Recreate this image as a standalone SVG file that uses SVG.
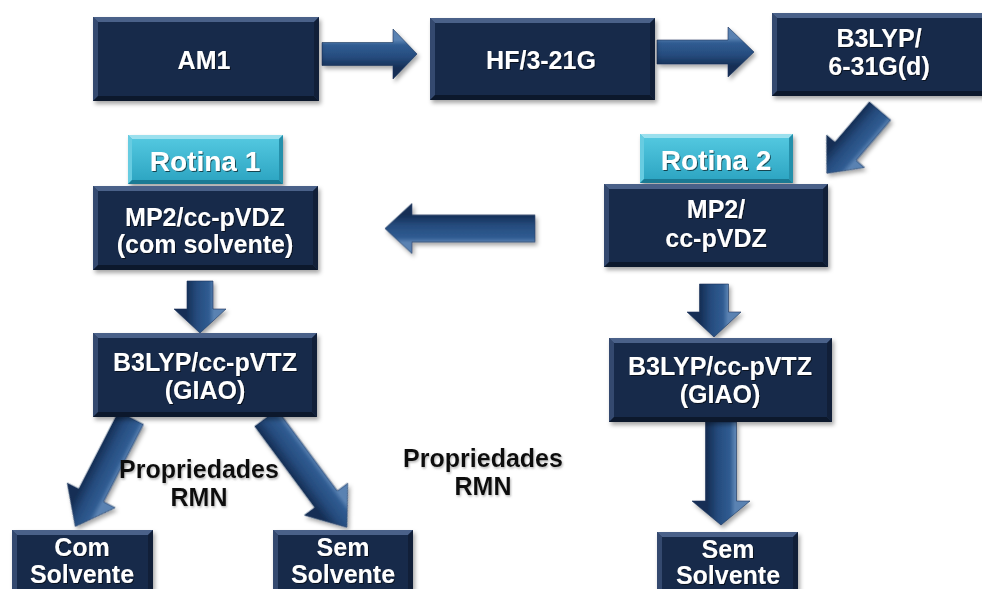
<svg xmlns="http://www.w3.org/2000/svg" width="982" height="589" viewBox="0 0 982 589">
  <defs>
    <style>
      .rim { fill: #2a3f62; }
      .bt { fill: #4a6189; }
      .bl { fill: #34496f; }
      .br { fill: #111f38; }
      .bb { fill: #0c182c; }
      .face { fill: #172a4a; }
      .trim { fill: #45b9d2; }
      .tbt { fill: #9be0ee; }
      .tbl { fill: #67cce1; }
      .tbr { fill: #2590ab; }
      .tbb { fill: #1b7a94; }
      .tface { fill: url(#tabGrad); }
      .arrow { fill: url(#arrowGrad); stroke: #17335a; stroke-width: 0.6; }
      .lbl { font-family: "Liberation Sans", Arial, sans-serif; font-weight: bold; font-size: 25px; fill: #ffffff; text-anchor: middle; }
      .tab { font-size: 28px; }
      .note { font-family: "Liberation Sans", Arial, sans-serif; font-weight: bold; font-size: 25px; fill: #111111; text-anchor: middle; }
    </style>
    <linearGradient id="tabGrad" x1="0" y1="0" x2="0" y2="1">
      <stop offset="0" stop-color="#52c7df"/>
      <stop offset="1" stop-color="#2ea6c3"/>
    </linearGradient>
    <linearGradient id="arrowGrad" gradientUnits="userSpaceOnUse" x1="0" y1="-14" x2="0" y2="14">
      <stop offset="0" stop-color="#5a82b2"/>
      <stop offset="0.18" stop-color="#305c92"/>
      <stop offset="0.6" stop-color="#264c7e"/>
      <stop offset="1" stop-color="#152e55"/>
    </linearGradient>
    <filter id="shadow" x="-10%" y="-10%" width="125%" height="130%">
      <feDropShadow dx="2" dy="3" stdDeviation="2" flood-color="#000" flood-opacity="0.35"/>
    </filter>
    <filter id="txtShadow" x="-5%" y="-20%" width="115%" height="150%">
      <feDropShadow dx="1" dy="1" stdDeviation="0.7" flood-color="#000" flood-opacity="0.6"/>
    </filter>
    <filter id="noteShadow" x="-5%" y="-20%" width="115%" height="150%">
      <feDropShadow dx="1" dy="1.5" stdDeviation="1" flood-color="#777" flood-opacity="0.55"/>
    </filter>
  </defs>

  <rect width="982" height="589" fill="#ffffff"/>

  <!-- block arrows between the steps -->
  <g id="connectors" filter="url(#shadow)">
    <g transform="translate(322,54)"><path class="arrow" d="M0,-11.5 L71,-11.5 L71,-25 L95,0 L71,25 L71,11.5 L0,11.5 Z"/></g>
    <g transform="translate(657,52)"><path class="arrow" d="M0,-12 L71,-12 L71,-25 L97,0 L71,25 L71,12 L0,12 Z"/></g>
    <g transform="translate(880,111) rotate(130.5)"><path class="arrow" d="M0,-14 L53,-14 L53,-25 L82,0 L53,25 L53,14 L0,14 Z"/></g>
    <g transform="translate(535,228.5) rotate(180)"><path class="arrow" d="M0,-13.5 L123,-13.5 L123,-25 L150,0 L123,25 L123,13.5 L0,13.5 Z"/></g>
    <g transform="translate(200,281) rotate(90)"><path class="arrow" d="M0,-13 L28,-13 L28,-26 L52,0 L28,26 L28,13 L0,13 Z"/></g>
    <g transform="translate(131,418) rotate(117.2)"><path class="arrow" d="M0,-14 L87,-14 L87,-27 L122,0 L87,27 L87,14 L0,14 Z"/></g>
    <g transform="translate(266,418) rotate(53.5)"><path class="arrow" d="M0,-14 L101,-14 L101,-27 L136,0 L101,27 L101,14 L0,14 Z"/></g>
    <g transform="translate(714,284) rotate(90)"><path class="arrow" d="M0,-14.5 L28,-14.5 L28,-27 L53,0 L28,27 L28,14.5 L0,14.5 Z"/></g>
    <g transform="translate(721,422) rotate(90)"><path class="arrow" d="M0,-15.5 L79,-15.5 L79,-29 L103,0 L79,29 L79,15.5 L0,15.5 Z"/></g>
  </g>

  <!-- AM1 -->
  <g id="am1">
    <rect class="rim" x="93" y="17" width="226" height="84" filter="url(#shadow)"/>
    <polygon class="bt" points="93,17 319,17 314,22 98,22"/>
    <polygon class="bl" points="93,17 98,22 98,96 93,101"/>
    <polygon class="br" points="319,17 314,22 314,96 319,101"/>
    <polygon class="bb" points="93,101 319,101 314,96 98,96"/>
    <rect class="face" x="98" y="22" width="216" height="74"/>
    <text class="lbl" x="204" y="69" filter="url(#txtShadow)">AM1</text>
  </g>

  <!-- HF/3-21G -->
  <g id="hf">
    <rect class="rim" x="430" y="18" width="225" height="82" filter="url(#shadow)"/>
    <polygon class="bt" points="430,18 655,18 650,23 435,23"/>
    <polygon class="bl" points="430,18 435,23 435,95 430,100"/>
    <polygon class="br" points="655,18 650,23 650,95 655,100"/>
    <polygon class="bb" points="430,100 655,100 650,95 435,95"/>
    <rect class="face" x="435" y="23" width="215" height="72"/>
    <text class="lbl" x="541" y="69" filter="url(#txtShadow)">HF/3-21G</text>
  </g>

  <!-- B3LYP/6-31G(d) -->
  <g id="b3lyp-631g">
    <rect class="rim" x="772" y="13" width="215" height="83" filter="url(#shadow)"/>
    <polygon class="bt" points="772,13 987,13 982,18 777,18"/>
    <polygon class="bl" points="772,13 777,18 777,91 772,96"/>
    <polygon class="bb" points="772,96 987,96 982,91 777,91"/>
    <rect class="face" x="777" y="18" width="210" height="73"/>
    <text class="lbl" x="879" y="47" filter="url(#txtShadow)">B3LYP/</text>
    <text class="lbl" x="879" y="75" filter="url(#txtShadow)">6-31G(d)</text>
  </g>

  <!-- Rotina 1 tab -->
  <g id="rotina1">
    <rect class="trim" x="128" y="135" width="155" height="49" filter="url(#shadow)"/>
    <polygon class="tbt" points="128,135 283,135 279,139 132,139"/>
    <polygon class="tbl" points="128,135 132,139 132,180 128,184"/>
    <polygon class="tbr" points="283,135 279,139 279,180 283,184"/>
    <polygon class="tbb" points="128,184 283,184 279,180 132,180"/>
    <rect class="tface" x="132" y="139" width="147" height="41"/>
    <text class="lbl tab" x="205" y="171" filter="url(#txtShadow)">Rotina 1</text>
  </g>

  <!-- Rotina 2 tab -->
  <g id="rotina2">
    <rect class="trim" x="640" y="134" width="153" height="49" filter="url(#shadow)"/>
    <polygon class="tbt" points="640,134 793,134 789,138 644,138"/>
    <polygon class="tbl" points="640,134 644,138 644,179 640,183"/>
    <polygon class="tbr" points="793,134 789,138 789,179 793,183"/>
    <polygon class="tbb" points="640,183 793,183 789,179 644,179"/>
    <rect class="tface" x="644" y="138" width="145" height="41"/>
    <text class="lbl tab" x="716" y="170" filter="url(#txtShadow)">Rotina 2</text>
  </g>

  <!-- MP2/cc-pVDZ with solvent -->
  <g id="mp2-solvent">
    <rect class="rim" x="93" y="186" width="225" height="84" filter="url(#shadow)"/>
    <polygon class="bt" points="93,186 318,186 313,191 98,191"/>
    <polygon class="bl" points="93,186 98,191 98,265 93,270"/>
    <polygon class="br" points="318,186 313,191 313,265 318,270"/>
    <polygon class="bb" points="93,270 318,270 313,265 98,265"/>
    <rect class="face" x="98" y="191" width="215" height="74"/>
    <text class="lbl" x="205" y="226" filter="url(#txtShadow)">MP2/cc-pVDZ</text>
    <text class="lbl" x="205" y="253" filter="url(#txtShadow)">(com solvente)</text>
  </g>

  <!-- MP2/cc-pVDZ -->
  <g id="mp2">
    <rect class="rim" x="604" y="184" width="224" height="83" filter="url(#shadow)"/>
    <polygon class="bt" points="604,184 828,184 823,189 609,189"/>
    <polygon class="bl" points="604,184 609,189 609,262 604,267"/>
    <polygon class="br" points="828,184 823,189 823,262 828,267"/>
    <polygon class="bb" points="604,267 828,267 823,262 609,262"/>
    <rect class="face" x="609" y="189" width="214" height="73"/>
    <text class="lbl" x="716" y="218" filter="url(#txtShadow)">MP2/</text>
    <text class="lbl" x="716" y="247" filter="url(#txtShadow)">cc-pVDZ</text>
  </g>

  <!-- B3LYP/cc-pVTZ (GIAO), routine 1 -->
  <g id="giao1">
    <rect class="rim" x="93" y="333" width="224" height="84" filter="url(#shadow)"/>
    <polygon class="bt" points="93,333 317,333 312,338 98,338"/>
    <polygon class="bl" points="93,333 98,338 98,412 93,417"/>
    <polygon class="br" points="317,333 312,338 312,412 317,417"/>
    <polygon class="bb" points="93,417 317,417 312,412 98,412"/>
    <rect class="face" x="98" y="338" width="214" height="74"/>
    <text class="lbl" x="205" y="371" filter="url(#txtShadow)">B3LYP/cc-pVTZ</text>
    <text class="lbl" x="205" y="399" filter="url(#txtShadow)">(GIAO)</text>
  </g>

  <!-- B3LYP/cc-pVTZ (GIAO), routine 2 -->
  <g id="giao2">
    <rect class="rim" x="609" y="338" width="223" height="84" filter="url(#shadow)"/>
    <polygon class="bt" points="609,338 832,338 827,343 614,343"/>
    <polygon class="bl" points="609,338 614,343 614,417 609,422"/>
    <polygon class="br" points="832,338 827,343 827,417 832,422"/>
    <polygon class="bb" points="609,422 832,422 827,417 614,417"/>
    <rect class="face" x="614" y="343" width="213" height="74"/>
    <text class="lbl" x="720" y="375" filter="url(#txtShadow)">B3LYP/cc-pVTZ</text>
    <text class="lbl" x="720" y="403" filter="url(#txtShadow)">(GIAO)</text>
  </g>

  <!-- Com Solvente -->
  <g id="com-solvente">
    <rect class="rim" x="12" y="530" width="141" height="70" filter="url(#shadow)"/>
    <polygon class="bt" points="12,530 153,530 148,535 17,535"/>
    <polygon class="bl" points="12,530 17,535 17,600 12,600"/>
    <polygon class="br" points="153,530 148,535 148,600 153,600"/>
    <rect class="face" x="17" y="535" width="131" height="65"/>
    <text class="lbl" x="82" y="556" filter="url(#txtShadow)">Com</text>
    <text class="lbl" x="82" y="583" filter="url(#txtShadow)">Solvente</text>
  </g>

  <!-- Sem Solvente, routine 1 -->
  <g id="sem-solvente1">
    <rect class="rim" x="273" y="530" width="140" height="70" filter="url(#shadow)"/>
    <polygon class="bt" points="273,530 413,530 408,535 278,535"/>
    <polygon class="bl" points="273,530 278,535 278,600 273,600"/>
    <polygon class="br" points="413,530 408,535 408,600 413,600"/>
    <rect class="face" x="278" y="535" width="130" height="65"/>
    <text class="lbl" x="343" y="556" filter="url(#txtShadow)">Sem</text>
    <text class="lbl" x="343" y="583" filter="url(#txtShadow)">Solvente</text>
  </g>

  <!-- Sem Solvente, routine 2 -->
  <g id="sem-solvente2">
    <rect class="rim" x="657" y="532" width="141" height="70" filter="url(#shadow)"/>
    <polygon class="bt" points="657,532 798,532 793,537 662,537"/>
    <polygon class="bl" points="657,532 662,537 662,600 657,600"/>
    <polygon class="br" points="798,532 793,537 793,600 798,600"/>
    <rect class="face" x="662" y="537" width="131" height="65"/>
    <text class="lbl" x="728" y="558" filter="url(#txtShadow)">Sem</text>
    <text class="lbl" x="728" y="584" filter="url(#txtShadow)">Solvente</text>
  </g>

  <!-- free-standing captions -->
  <g id="labels" filter="url(#noteShadow)">
    <text class="note" x="199" y="478">Propriedades</text>
    <text class="note" x="199" y="506">RMN</text>
    <text class="note" x="483" y="467">Propriedades</text>
    <text class="note" x="483" y="495">RMN</text>
  </g>
</svg>
